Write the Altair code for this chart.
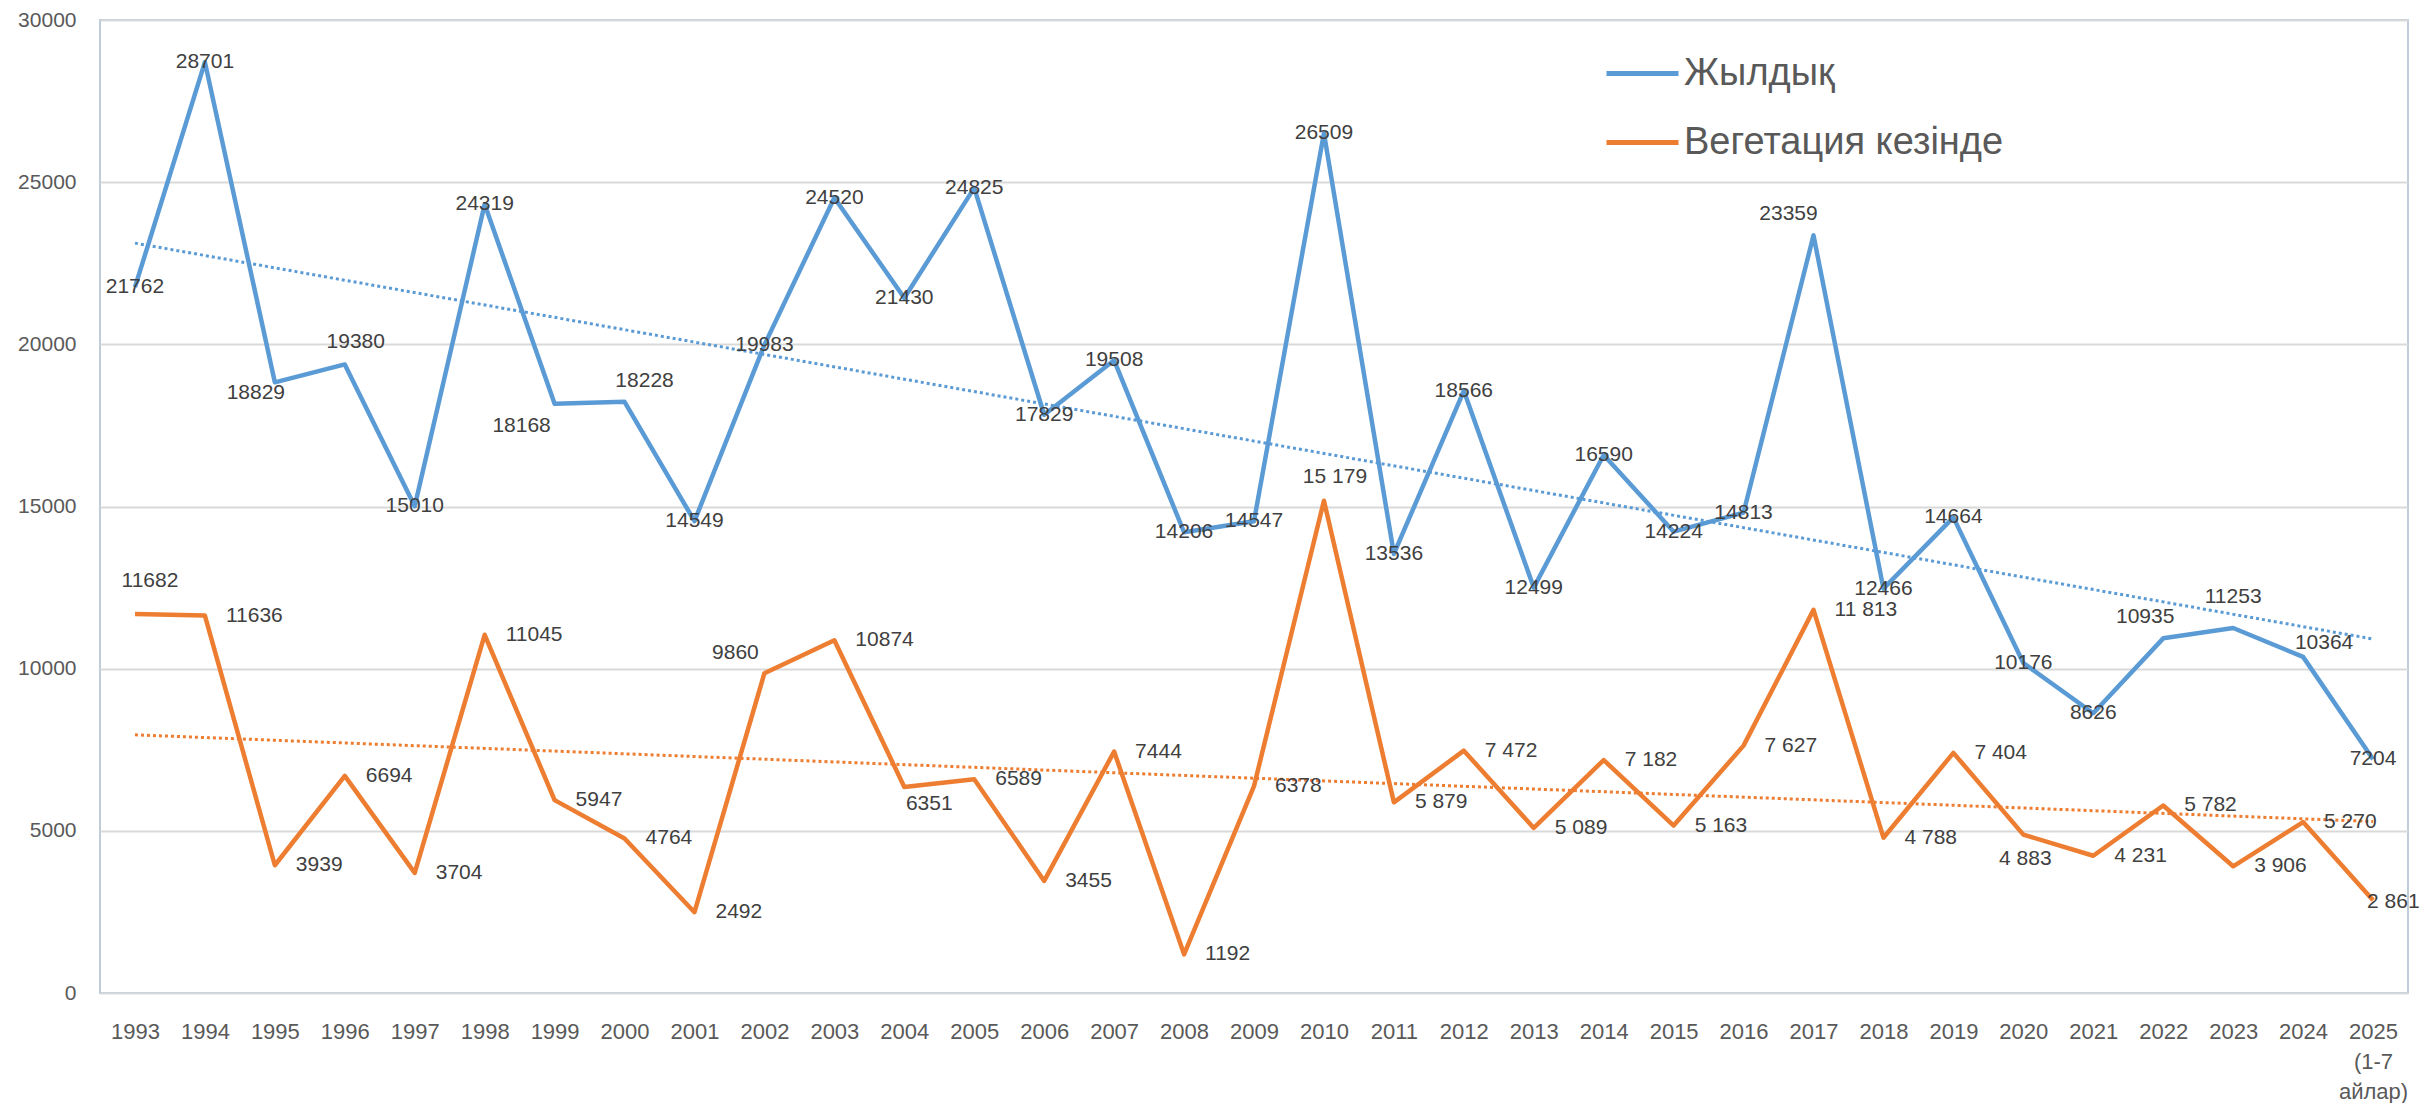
import altair as alt
import pandas as pd

# ---------------- data ----------------
years = ["1993", "1994", "1995", "1996", "1997", "1998", "1999", "2000", "2001", "2002",
         "2003", "2004", "2005", "2006", "2007", "2008", "2009", "2010", "2011", "2012",
         "2013", "2014", "2015", "2016", "2017", "2018", "2019", "2020", "2021", "2022",
         "2023", "2024", "2025\n(1-7\nайлар)"]

annual = [21762, 28701, 18829, 19380, 15010, 24319, 18168, 18228, 14549, 19983,
          24520, 21430, 24825, 17829, 19508, 14206, 14547, 26509, 13536, 18566,
          12499, 16590, 14224, 14813, 23359, 12466, 14664, 10176, 8626, 10935,
          11253, 10364, 7204]

vegetation = [11682, 11636, 3939, 6694, 3704, 11045, 5947, 4764, 2492, 9860,
              10874, 6351, 6589, 3455, 7444, 1192, 6378, 15179, 5879, 7472,
              5089, 7182, 5163, 7627, 11813, 4788, 7404, 4883, 4231, 5782,
              3906, 5270, 2861]

series_names = ["Жылдық", "Вегетация кезінде"]
series_colors = ["#5B9BD5", "#ED7D31"]

# ---------------- label placement (style only: align, dx px, dy px) ----------------
annual_label_default = ("center", 0, 0)
annual_label_special = {2: ("center", -19, 11), 3: ("center", 11, -22),
                        6: ("center", -33, 22), 7: ("center", 20, -21),
                        24: ("center", -25, -21), 29: ("center", -18, -21),
                        30: ("center", 0, -31), 31: ("center", 21, -14)}
veg_label_default = ("left", 21, 0)
veg_label_special = {0: ("center", 15, -33), 9: ("center", -29, -20),
                     11: ("center", 25, 17), 17: ("center", 11, -24),
                     27: ("center", 2, 24), 32: ("left", -6, 2)}

rows = []
for s, vals, dflt, spec in [(series_names[0], annual, annual_label_default, annual_label_special),
                            (series_names[1], vegetation, veg_label_default, veg_label_special)]:
    for i, v in enumerate(vals):
        al, dx, dy = spec.get(i, dflt)
        rows.append({"i": i, "series": s, "v": v, "key": f"{s}|{al}|{dx}|{dy}"})
df = pd.DataFrame(rows)

FONT = "Liberation Sans"
N = len(years)

x_enc = alt.X("i:Q",
              scale=alt.Scale(domain=[-0.5, N - 0.5], nice=False, zero=False),
              axis=alt.Axis(values=list(range(N)), title=None, grid=False, ticks=False,
                            domain=False, labelFontSize=22, labelColor="#595959",
                            labelPadding=28, labelLineHeight=30, labelFont=FONT,
                            labelFlush=False, labelOverlap=False,
                            labelExpr="split(" + "[" + ",".join(
                                "'" + y.replace("\n", "\\n") + "'" for y in years) + "][datum.value], '\\n')"))
y_enc = alt.Y("v:Q",
              scale=alt.Scale(domain=[0, 30000], nice=False),
              axis=alt.Axis(values=[0, 5000, 10000, 15000, 20000, 25000, 30000], title=None,
                            format="d", ticks=False, domain=False, labelFontSize=21,
                            labelColor="#595959", labelPadding=24, labelFont=FONT,
                            gridColor="#D9D9D9", gridWidth=2))
color_scale = alt.Scale(domain=series_names, range=series_colors)

base = alt.Chart(df)

lines = base.mark_line(strokeWidth=4.5, strokeJoin="round").encode(
    x=x_enc, y=y_enc,
    color=alt.Color("series:N", scale=color_scale,
                    legend=alt.Legend(title=None, orient="none", legendX=1504, legendY=15,
                                      symbolType="stroke", symbolSize=5184,
                                      symbolStrokeWidth=5, labelFontSize=38,
                                      labelColor="#595959", labelFont=FONT,
                                      labelOffset=3, rowPadding=11, labelLimit=600,
                                      padding=0))
)

trend = base.transform_regression(
    "i", "v", groupby=["series"], extent=[0, N - 1]
).mark_line(strokeDash=[3, 3], strokeWidth=3).encode(
    x=x_enc, y=y_enc, stroke=alt.Stroke("series:N", scale=color_scale, legend=None)
)

label_expr = ("datum.series == '" + series_names[1] + "' && datum.i >= 17 ? "
              "replace(format(datum.v, ','), ',', ' ') : format(datum.v, 'd')")

layers = [lines, trend]
for key in df["key"].unique():
    _, al, dx, dy = key.split("|")
    layers.append(
        base.transform_filter(alt.FieldOneOfPredicate(field="key", oneOf=[key]))
        .transform_calculate(lab=label_expr)
        .mark_text(align=al, dx=int(dx), dy=int(dy), baseline="middle",
                   fontSize=21, font=FONT, color="#404040")
        .encode(x=x_enc, y=y_enc, text="lab:N")
    )

chart = alt.layer(*layers).properties(
    width=2308, height=973,
    padding={"left": 92, "top": 12, "right": 14, "bottom": 110},
    autosize=alt.AutoSizeParams(type="none"),
).configure_view(stroke="#BFCDDA", strokeWidth=2)

chart.save("out.html", embed_options={"renderer": "svg", "actions": False})
